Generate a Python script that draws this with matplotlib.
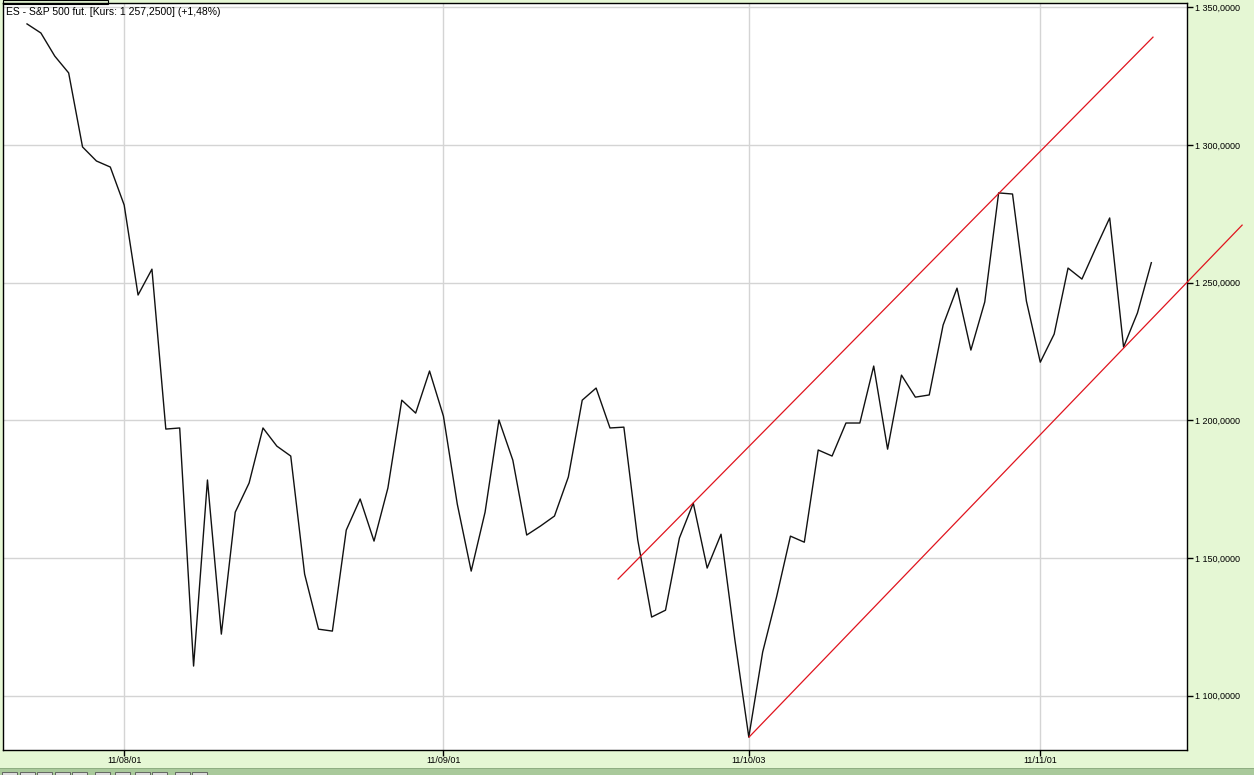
import numpy as np
import matplotlib.pyplot as plt
from matplotlib.patches import Rectangle

# --- Data (ES - S&P 500 futures, daily close, thousands) --- #
closes_k = [
    1344.0, 1340.7, 1332.3, 1326.2, 1299.3, 1294.2, 1292.0, 1278.2, 1245.5, 1254.9,
    1196.8, 1197.2, 1110.7, 1178.3, 1122.3, 1166.6, 1177.2, 1197.2, 1190.6, 1187.0,
    1144.1, 1124.1, 1123.4, 1160.1, 1171.4, 1156.1, 1175.4, 1207.3, 1202.6, 1217.9,
    1201.5, 1169.5, 1145.2, 1166.6, 1200.1, 1185.5, 1158.3, 1161.6, 1165.2, 1179.4,
    1207.3, 1211.7, 1197.2, 1197.5, 1156.5, 1128.5, 1131.0, 1157.2, 1169.9, 1146.3,
    1158.6, 1120.1, 1084.9, 1115.8, 1135.8, 1157.9, 1155.7, 1189.2, 1187.0, 1199.0,
    1199.0, 1219.7, 1189.5, 1216.4, 1208.4, 1209.2, 1234.6, 1248.0, 1225.5, 1243.0,
    1282.6, 1282.2, 1243.3, 1221.1, 1231.3, 1255.3, 1251.3, 1262.6, 1273.5, 1226.6,
    1239.0, 1257.25,
]
closes = np.array(closes_k) * 1000

date_ticks = [7, 30, 52, 73]
date_labels = ['11/08/01', '11/09/01', '11/10/03', '11/11/01']

price_ticks = [1100000, 1150000, 1200000, 1250000, 1300000, 1350000]
price_labels = ['1 100,0000', '1 150,0000', '1 200,0000', '1 250,0000', '1 300,0000', '1 350,0000']

# trend channel (bar index, price)
upper_x = [42.58, 81.12]
upper_y = [1142300, 1339200]
lower_x = [52.02, 87.54]
lower_y = [1084900, 1270900]

title = 'ES - S&P 500 fut. [Kurs: 1 257,2500] (+1,48%)'

BG = '#e5f7d4'
plt.rcParams['font.family'] = ['Liberation Sans', 'DejaVu Sans']

fig = plt.figure(figsize=(12.54, 7.75), dpi=100, facecolor=BG)
W, H = 1254, 775
# plot frame in pixels: left 3, right 1187, top 3, bottom 750
ax = fig.add_axes([3 / W, 1 - 750 / H, (1187 - 3) / W, (750 - 3) / H])
ax.set_facecolor('white')

# --- Grid --- #
for x in date_ticks:
    ax.axvline(x, color='#d4d4d4', lw=1.0, zorder=0)
for y in price_ticks:
    ax.axhline(y, color='#d4d4d4', lw=1.0, zorder=0)

# --- Price line --- #
ax.plot(np.arange(len(closes)), closes, color='#111111', lw=1.0, zorder=3)

# --- Channel --- #
ax.plot(upper_x, upper_y, color='#e0141e', lw=0.9, zorder=4)
ax.plot(lower_x, lower_y, color='#e0141e', lw=0.9, zorder=4, clip_on=False)

ax.set_xlim(-1.73, 83.57)
ax.set_ylim(1080200, 1351600)

ax.yaxis.tick_right()
ax.set_yticks(price_ticks)
ax.set_yticklabels(price_labels)
ax.set_xticks(date_ticks)
ax.set_xticklabels(date_labels)
ax.tick_params(axis='both', direction='out', length=4, width=1, labelsize=6.5,
               colors='black', pad=1.5)
ax.tick_params(axis='x', pad=0.5)
for s in ax.spines.values():
    s.set_linewidth(1.0)
    s.set_color('black')

ax.text(3 / (1187 - 3), 0.995, title, transform=ax.transAxes, fontsize=7.5,
        ha='left', va='top', color='black')

# --- Tab box above the frame --- #
fig.patches.append(Rectangle((3 / W, 1 - 4 / H), 105 / W, 3.5 / H, transform=fig.transFigure,
                             fill=False, edgecolor='black', lw=0.8))

# --- Bottom strip with buttons --- #
fig.patches.append(Rectangle((0, 0), 1, 6 / H, transform=fig.transFigure,
                             facecolor='#a9c99b', edgecolor='none'))
fig.patches.append(Rectangle((0, 6 / H), 1, 1.5 / H, transform=fig.transFigure,
                             facecolor='#8fae82', edgecolor='none'))
btn_x = [2, 20, 37, 55, 72, 95, 115, 135, 152, 175, 192]
for bx in btn_x:
    fig.patches.append(Rectangle((bx / W, 0), 15 / W, 3 / H, transform=fig.transFigure,
                                 facecolor='#dcdcdc', edgecolor='#555555', lw=0.6))

fig.savefig('out.png', dpi=100, facecolor=BG)
